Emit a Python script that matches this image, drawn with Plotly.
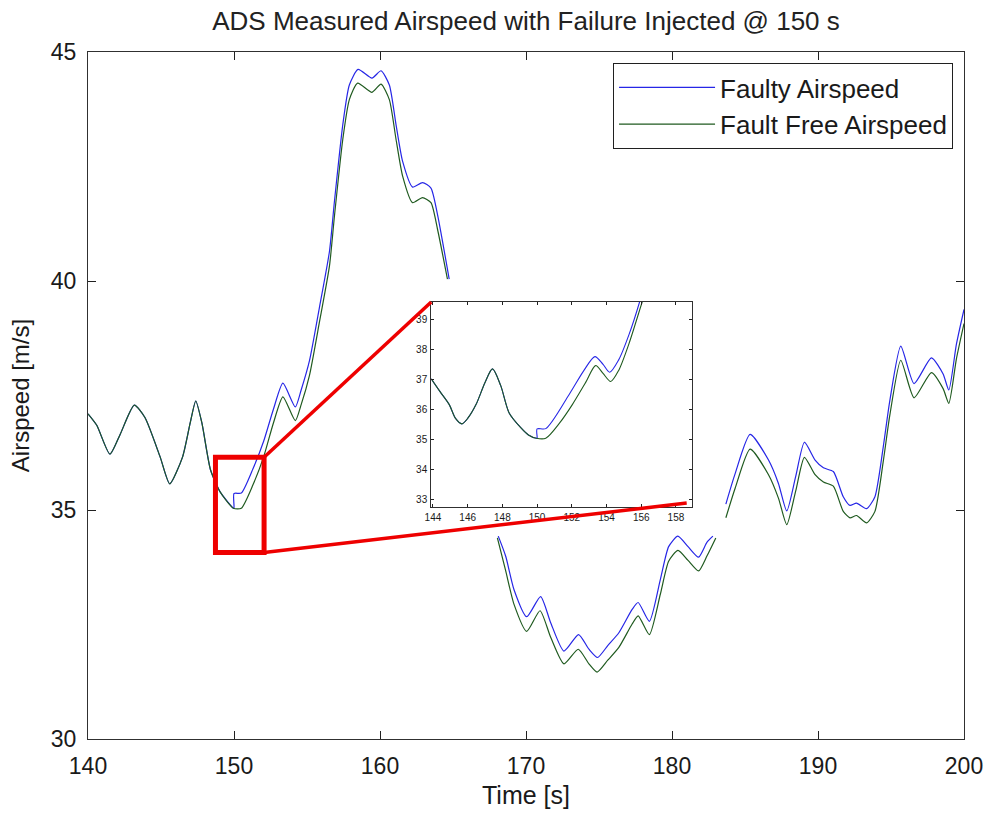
import plotly.graph_objects as go

# ---------------- data ----------------
# Fault-free airspeed, main view (None = hidden behind the inset picture)
free_t = [140.0, 140.6, 141.5, 142.2, 143.17, 143.9, 144.94, 145.6, 146.48, 147.0, 147.38, 147.8,
          148.39, 149.06, 149.96, 150.5, 151.3, 152.03, 152.7, 153.35, 154.2, 154.6, 155.17,
          155.85, 156.54, 156.88, 157.45, 157.9, 158.47, 159.45, 160.07, 160.64, 161.1, 161.55,
          162.23, 162.91, 163.49, 163.94, 164.62, None,
          168.04, 168.61, 169.18, 170.05, 170.96, 171.69, 172.6, 173.58, 174.31, 174.87, 175.6,
          176.36, 177.27, 177.68, 178.45, 179.2, 179.77, 180.41, 181.1, 181.82, 182.4, 183.0, None,
          183.69, 184.33, 185.35, 186.61, 187.29, 187.86, 188.47, 189.07, 189.8, 190.37, 191.05,
          191.73, 192.19, 192.64, 193.33, 193.9, 194.47, 194.92, 195.67, 196.58, 197.77, 198.57,
          198.96, 199.48, 200.0]
free_v = [37.10, 36.85, 36.22, 36.65, 37.29, 37.02, 36.16, 35.57, 36.16, 36.90, 37.38, 36.90,
          35.88, 35.39, 35.04, 35.04, 35.55, 36.16, 36.90, 37.47, 36.95, 37.30, 37.94,
          39.10, 40.33, 41.42, 43.09, 43.96, 44.32, 44.12, 44.30, 43.96, 43.09, 42.29,
          41.71, 41.82, 41.71, 41.13, 40.04, None,
          34.39, 33.67, 32.94, 32.35, 32.80, 32.22, 31.64, 31.96, 31.64, 31.46, 31.72,
          32.00, 32.51, 32.69, 32.28, 33.16, 33.88, 34.12, 33.90, 33.67, 34.00, 34.39, None,
          34.83, 35.48, 36.33, 35.77, 35.26, 34.68, 35.41, 36.15, 35.77, 35.61, 35.52,
          34.97, 34.83, 34.88, 34.72, 34.97, 36.06, 37.07, 38.27, 37.45, 38.00, 37.65,
          37.33, 38.30, 39.07]

# Faulty airspeed, main view
faulty_t = [140.0, 140.6, 141.5, 142.2, 143.17, 143.9, 144.94, 145.6, 146.48, 147.0, 147.38, 147.8,
            148.39, 149.06, 149.96, 150.0, 150.0, 150.5, 151.3, 152.03, 152.7, 153.35, 154.2, 154.6,
            155.17, 155.85, 156.54, 156.88, 157.45, 157.9, 158.5, 159.45, 160.07, 160.64, 161.1,
            161.55, 162.23, 162.91, 163.49, 163.94, 164.74, None,
            168.1, 168.61, 169.18, 170.05, 171.0, 171.69, 172.6, 173.6, 174.31, 174.9, 175.6,
            176.36, 177.27, 177.68, 178.45, 179.2, 179.77, 180.4, 181.1, 181.82, 182.4, 182.8, None,
            183.69, 184.33, 185.35, 186.61, 187.29, 187.86, 188.47, 189.07, 189.8, 190.37, 191.05,
            191.73, 192.19, 192.64, 193.33, 193.9, 194.47, 194.92, 195.67, 196.58, 197.77, 198.57,
            198.96, 199.48, 200.0]
faulty_v = [37.10, 36.85, 36.22, 36.65, 37.29, 37.02, 36.16, 35.57, 36.16, 36.90, 37.38, 36.90,
            35.88, 35.39, 35.04, 35.04, 35.36, 35.37, 35.90, 36.50, 37.20, 37.77, 37.25, 37.62,
            38.26, 39.42, 40.65, 41.74, 43.41, 44.28, 44.62, 44.43, 44.59, 44.28, 43.41,
            42.61, 42.05, 42.15, 42.03, 41.45, 40.04, None,
            34.43, 33.99, 33.26, 32.67, 33.11, 32.54, 31.92, 32.28, 31.96, 31.78, 32.04,
            32.32, 32.83, 32.98, 32.57, 33.48, 34.20, 34.43, 34.20, 33.97, 34.30, 34.43, None,
            35.13, 35.80, 36.65, 36.09, 35.58, 34.98, 35.73, 36.48, 36.09, 35.92, 35.84,
            35.29, 35.10, 35.15, 35.03, 35.29, 36.38, 37.39, 38.58, 37.76, 38.32, 37.97,
            37.62, 38.62, 39.38]

# Inset (zoomed) view
inset_free_t = [143.9, 144.4, 144.94, 145.3, 145.67, 146.0, 146.48, 147.0, 147.43, 147.9, 148.39,
                149.06, 149.5, 149.96, 150.5, 151.3, 152.03, 152.8, 153.37, 153.8, 154.24, 154.7,
                155.3, 156.05, 156.3]
inset_free_v = [37.02, 36.60, 36.16, 35.70, 35.52, 35.70, 36.16, 36.90, 37.35, 36.80, 35.88,
                35.39, 35.15, 35.04, 35.04, 35.55, 36.16, 36.90, 37.46, 37.20, 36.93, 37.30,
                38.20, 39.57, 40.00]
inset_faulty_t = [143.9, 144.4, 144.94, 145.3, 145.67, 146.0, 146.48, 147.0, 147.43, 147.9, 148.39,
                  149.06, 149.5, 149.96, 150.0, 150.0, 150.5, 151.84, 152.7, 153.33, 153.8, 154.18,
                  154.7, 155.3, 155.9, 156.1]
inset_faulty_v = [37.02, 36.60, 36.16, 35.70, 35.52, 35.70, 36.16, 36.90, 37.35, 36.80, 35.88,
                  35.39, 35.15, 35.04, 35.04, 35.35, 35.36, 36.49, 37.30, 37.76, 37.50, 37.24,
                  37.65, 38.50, 39.57, 40.00]

main_xticks = [140, 150, 160, 170, 180, 190, 200]
main_yticks = [30, 35, 40, 45]
inset_xticks = [144, 146, 148, 150, 152, 154, 156, 158]
inset_yticks = [33, 34, 35, 36, 37, 38, 39]

# zoom box (data coords of main axes) and the inset corners it links to
zoom_box = dict(x0=148.73, x1=152.06, y0=34.07, y1=36.15)
inset_corner_top = (143.9, 39.58)
inset_corner_bottom = (158.62, 32.88)

# ---------------- layout geometry ----------------
W, H = 995, 816
ML, MR, MT, MB = 88, 29, 52, 74
main_xr = [140, 200]
main_yr = [30, 45]
inset_xr = [143.9, 158.9]
inset_yr = [32.75, 39.58]
inset_xdom = [0.3918, 0.6890]
inset_ydom = [0.3377, 0.6362]

def main_to_paper(x, y):
    return ((x - main_xr[0]) / (main_xr[1] - main_xr[0]),
            (y - main_yr[0]) / (main_yr[1] - main_yr[0]))

def inset_to_paper(x, y):
    px = inset_xdom[0] + (x - inset_xr[0]) / (inset_xr[1] - inset_xr[0]) * (inset_xdom[1] - inset_xdom[0])
    py = inset_ydom[0] + (y - inset_yr[0]) / (inset_yr[1] - inset_yr[0]) * (inset_ydom[1] - inset_ydom[0])
    return px, py

FONT = "Liberation Sans, Arial, sans-serif"
BLUE = "#2626e6"
GREEN = "#1f5a1f"

fig = go.Figure()
fig.add_trace(go.Scatter(x=faulty_t, y=faulty_v, mode="lines", name="Faulty Airspeed",
                         line=dict(color=BLUE, width=1.2, shape="spline", smoothing=0.6),
                         xaxis="x", yaxis="y"))
fig.add_trace(go.Scatter(x=free_t, y=free_v, mode="lines", name="Fault Free Airspeed",
                         line=dict(color=GREEN, width=1.2, shape="spline", smoothing=0.6),
                         xaxis="x", yaxis="y"))
fig.add_trace(go.Scatter(x=inset_faulty_t, y=inset_faulty_v, mode="lines", showlegend=False,
                         line=dict(color=BLUE, width=1.1, shape="spline", smoothing=0.8),
                         xaxis="x2", yaxis="y2"))
fig.add_trace(go.Scatter(x=inset_free_t, y=inset_free_v, mode="lines", showlegend=False,
                         line=dict(color=GREEN, width=1.1, shape="spline", smoothing=0.8),
                         xaxis="x2", yaxis="y2"))

axis_common = dict(showgrid=False, zeroline=False, showline=True, linecolor="#303030",
                   linewidth=1, mirror="ticks", ticks="inside", tickcolor="#202020")

fig.update_layout(
    width=W, height=H,
    margin=dict(l=ML, r=MR, t=MT, b=MB),
    paper_bgcolor="white", plot_bgcolor="white",
    font=dict(family=FONT, color="#1a1a1a"),
    title=dict(text="ADS Measured Airspeed with Failure Injected @ 150 s",
               x=0.5, xref="paper", y=1 - 21 / H, yref="container", yanchor="middle",
               font=dict(size=26, family=FONT, color="#222")),
    xaxis=dict(range=main_xr, domain=[0, 1], tickvals=main_xticks, ticklen=8,
               tickfont=dict(size=23), ticklabelstandoff=6,
               title=dict(text="Time [s]", font=dict(size=25), standoff=8), **axis_common),
    yaxis=dict(range=main_yr, domain=[0, 1], tickvals=main_yticks, ticklen=8,
               tickfont=dict(size=23), ticklabelstandoff=6,
               title=dict(text="Airspeed [m/s]", font=dict(size=24), standoff=14), **axis_common),
    xaxis2=dict(range=inset_xr, domain=inset_xdom, anchor="y2", tickvals=inset_xticks,
                ticklen=3, tickfont=dict(size=10), ticklabelstandoff=1, **axis_common),
    yaxis2=dict(range=inset_yr, domain=inset_ydom, anchor="x2", tickvals=inset_yticks,
                ticklen=3, tickfont=dict(size=10), ticklabelstandoff=1, **axis_common),
    legend=dict(x=0.9875, y=0.984, xanchor="right", yanchor="top", bgcolor="white",
                bordercolor="#202020", borderwidth=1, font=dict(size=26, family=FONT),
                itemwidth=96, tracegroupgap=0),
    showlegend=True,
)

# zoom rectangle on the main axes
fig.add_shape(type="rect", xref="x", yref="y", line=dict(color="#ee0000", width=5),
              fillcolor="rgba(0,0,0,0)", **zoom_box)

# connector lines from the zoom rectangle to the inset
p_top_a = main_to_paper(zoom_box["x1"], zoom_box["y1"])
p_top_b = inset_to_paper(*inset_corner_top)
p_bot_a = main_to_paper(zoom_box["x1"], zoom_box["y0"])
p_bot_b = inset_to_paper(*inset_corner_bottom)
for a, b in ((p_top_a, p_top_b), (p_bot_a, p_bot_b)):
    fig.add_shape(type="line", xref="paper", yref="paper", x0=a[0], y0=a[1], x1=b[0], y1=b[1],
                  line=dict(color="#ee0000", width=3.5), layer="above")

fig.write_html("out.html")
